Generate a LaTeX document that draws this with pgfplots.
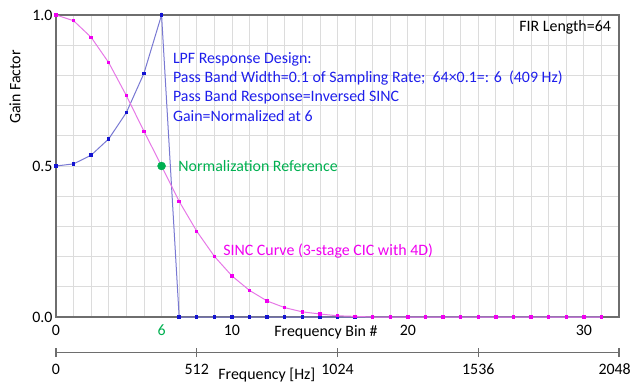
\documentclass[border=0pt]{standalone}
\usepackage{fontspec}
\setmainfont{Carlito}
\usepackage{pgfplots}
\pgfplotsset{compat=1.18}
\definecolor{gridc}{RGB}{220,220,220}
\definecolor{framec}{RGB}{110,110,110}
\definecolor{bluel}{RGB}{120,120,210}
\definecolor{bluem}{RGB}{20,20,210}
\definecolor{bluet}{RGB}{30,30,235}
\definecolor{pinkl}{RGB}{230,120,230}
\definecolor{pinkm}{RGB}{240,0,240}
\definecolor{greenc}{RGB}{0,176,80}
\newcommand\fs{\fontsize{15.9bp}{19bp}\selectfont}
\begin{document}
\begin{tikzpicture}
\useasboundingbox (-56bp,-66bp) rectangle (577bp,317bp);
\begin{axis}[
 at={(0,0)}, anchor=south west, scale only axis,
 width=563bp, height=302bp,
 xmin=0,xmax=32,ymin=0,ymax=1,
 xtick={0,6,10,20,30},
 xticklabels={0,\textcolor{greenc}{6},10,20,30},
 minor xtick={1,2,3,4,5,7,8,9,11,12,13,14,15,16,17,18,19,21,22,23,24,25,26,27,28,29,31},
 ytick={0,0.5,1},
 yticklabels={0.0,0.5,1.0},
 minor ytick={0.1,0.2,0.3,0.4,0.6,0.7,0.8,0.9},
 grid=both,
 major grid style={gridc, line width=0.8bp},
 minor grid style={gridc, line width=0.8bp},
 major tick length=0pt, minor tick length=0pt,
 axis line style={framec, line width=1.2bp},
 ticklabel style={font=\fs},
 xticklabel style={anchor=base, yshift=-18.5bp},
 clip=false,
]
\addplot[color=bluel, line width=1bp, mark=square*, mark size=1.2bp, mark options={draw=bluem, fill=bluem}] coordinates {
(0,0.5) (1,0.507) (2,0.536) (3,0.59) (4,0.677) (5,0.807) (6,1.0) (7,0) (8,0) (9,0) (10,0)
(11,0) (12,0) (13,0) (14,0) (15,0) (16,0) (17,0) (18,0) (19,0) (20,0) (21,0) (22,0) (23,0)
(24,0) (25,0) (26,0) (27,0) (28,0) (29,0) (30,0) (31,0)};
\addplot[color=pinkl, line width=1bp, mark=square*, mark size=1.2bp, mark options={draw=pinkm, fill=pinkm}] coordinates {
(0,1.0) (1,0.981) (2,0.926) (3,0.842) (4,0.733) (5,0.615) (6,0.5) (7,0.383) (8,0.284) (9,0.201)
(10,0.136) (11,0.088) (12,0.053) (13,0.031) (14,0.017) (15,0.010) (16,0.004) (17,0.002) (18,0)
(19,0) (20,0) (21,0) (22,0) (23,0) (24,0) (25,0) (26,0) (27,0) (28,0) (29,0) (30,0) (31,0)};
\addplot[only marks, mark=*, mark size=4bp, color=greenc] coordinates {(6,0.5)};
\node[anchor=base west, text=bluet, font=\fs, inner sep=0] at (axis cs:6.64,0.840) {LPF Response Design:};
\node[anchor=base west, text=bluet, font=\fs, inner sep=0] at (axis cs:6.64,0.776) {Pass Band Width=0.1 of Sampling Rate;\ \ 64×0.1=: 6\ \ (409 Hz)};
\node[anchor=base west, text=bluet, font=\fs, inner sep=0] at (axis cs:6.64,0.712) {Pass Band Response=Inversed SINC};
\node[anchor=base west, text=bluet, font=\fs, inner sep=0] at (axis cs:6.64,0.648) {Gain=Normalized at 6};
\node[anchor=base west, text=greenc, font=\fs, inner sep=0] at (axis cs:6.95,0.483) {Normalization Reference};
\node[anchor=base west, text=pinkm, font=\fs, inner sep=0] at (axis cs:9.50,0.205) {SINC Curve (3-stage CIC with 4D)};
\node[anchor=base east, text=black, font=\fs, inner sep=0] at (axis cs:31.55,0.945) {FIR Length=64};
\node[anchor=base west, text=black, font=\fs, inner sep=0, yshift=-19bp] at (axis cs:12.4,0) {Frequency Bin \#};
\end{axis}
\node[rotate=90, font=\fs, inner sep=0] at (-41bp,230bp) {Gain Factor};
\begin{axis}[
 at={(0,-35.7bp)}, anchor=south west, scale only axis,
 width=563bp, height=10bp,
 xmin=0, xmax=2048, ymin=0, ymax=1,
 axis x line*=bottom, axis y line=none,
 xtick={0,512,1024,1536,2048},
 xticklabels={0,512,1024,1536,\makebox[41bp][l]{2048}},
 tick align=center, major tick length=9bp,
 tick style={framec, line width=1.2bp},
 axis line style={framec, line width=1.2bp},
 ticklabel style={font=\fs},
 xticklabel style={anchor=base, yshift=-17.3bp},
 clip=false,
]
\node[anchor=base west, font=\fs, inner sep=0, yshift=-26.8bp] at (axis cs:590,0) {Frequency [Hz]};
\end{axis}
\end{tikzpicture}
\end{document}
